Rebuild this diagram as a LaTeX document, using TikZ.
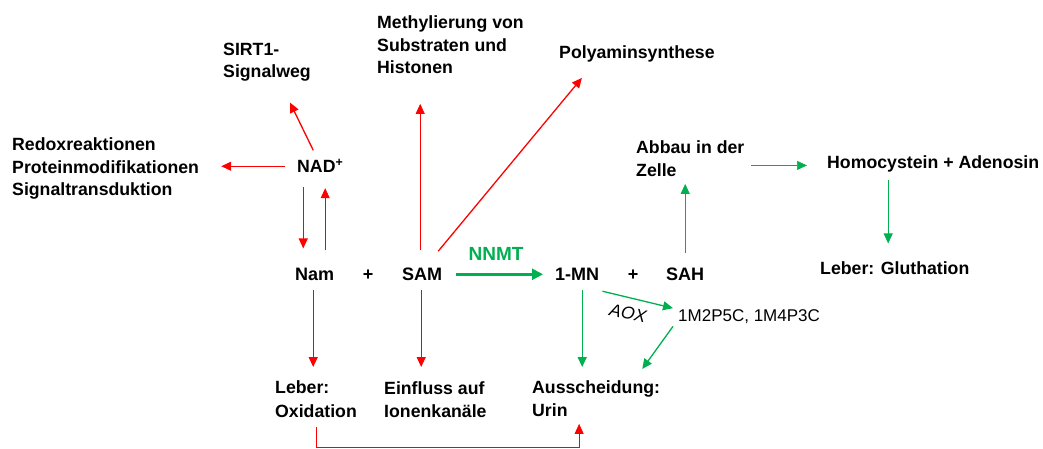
\documentclass[tikz,border=0pt]{standalone}
\usepackage{fontspec}
\setmainfont{Liberation Sans}
\usetikzlibrary{arrows.meta,calc}
\definecolor{rd}{HTML}{FF0000}
\definecolor{gn}{HTML}{00B050}
\begin{document}
\begin{tikzpicture}[x=1pt,y=-1pt,
  lab/.style={anchor=north west, inner sep=0pt, align=left, font=\fontsize{17.7}{22.5}\selectfont\bfseries},
  lab1/.style={anchor=base west, inner sep=0pt, font=\fontsize{17.7}{22.5}\selectfont\bfseries},
  mol/.style={anchor=base west, inner sep=0pt, font=\fontsize{18}{22}\selectfont\bfseries},
  tip/.style={-{Triangle[length=10pt,width=9pt]}},
  ra/.style={draw=rd, line width=1.3pt, tip},
  rthin/.style={draw=rd, line width=0.7pt, tip},
  ga/.style={draw=gn, line width=1.3pt, tip},
  gthin/.style={draw=gn, line width=0.7pt, tip},
  gthick/.style={draw=gn, line width=2.4pt, -{Triangle[length=11pt,width=11pt]}}]
\path[use as bounding box] (0,0) rectangle (1043,449);
\coordinate (bot) at (0,447.5);

% labels
\node[lab] (sirt) at (223,42.5) {SIRT1-\\Signalweg};
\node[lab] (meth) at (377,15.5) {Methylierung von\\Substraten und\\Histonen};
\node[lab1] (poly) at (559,59) {Polyaminsynthese};
\node[lab] (redox) at (12,137.5) {Redoxreaktionen\\Proteinmodifikationen\\Signaltransduktion};
\node[lab1] (nad) at (297,173) {NAD\textsuperscript{+}};
\node[lab] (abbau) at (636,140.5) {Abbau in der\\Zelle};
\node[lab1] (homo) at (827,169) {Homocystein + Adenosin};
\node[lab1] (lglut) at (820,274) {Leber: Gluthation};

\node[mol] (nam) at (295,280) {Nam};
\node[mol, anchor=base] (plusa) at (368,280) {+};
\node[mol] (sam) at (402,280) {SAM};
\node[mol, anchor=base, text=gn, font=\fontsize{19}{22}\selectfont\bfseries] (nnmt) at (496,260) {NNMT};
\node[mol] (mn) at (555,280) {1-MN};
\node[mol, anchor=base] (plusb) at (633,280) {+};
\node[mol] (sah) at (666,280) {SAH};
\node[inner sep=0pt, rotate=-12, font=\fontsize{17.5}{20}\selectfont\itshape] (aox) at (628,313) {AOX};
\node[anchor=base west, inner sep=0pt, font=\fontsize{17}{20}\selectfont] (prod) at (678,321) {1M2P5C, 1M4P3C};

\node[lab, font=\fontsize{17.7}{24}\selectfont\bfseries] (lox) at (275,380.5) {Leber:\\Oxidation};
\node[lab, font=\fontsize{17.7}{23}\selectfont\bfseries] (einf) at (384,381.5) {Einfluss auf\\Ionenkanäle};
\node[lab, font=\fontsize{17.7}{23}\selectfont\bfseries] (aus) at (532,380.5) {Ausscheidung:\\Urin};

% red connectors
\draw[ra] ($(nad.west)+(-12,0)$) coordinate (a1) -- ($(a1 -| redox.east)+(22,0)$);
\draw[ra] ($(nad.north)+(-7,-9)$) -- ($(sirt.south)+(23,21)$);
\draw[ra, shorten >=19pt] ($(nad.south)+(-17,14)$) coordinate (a3) -- (a3 |- nam.north);
\draw[rthin, shorten >=15pt] ($(nam.north)+(10.5,-17)$) coordinate (a4) -- (a4 |- nad.south);
\draw[rthin, shorten >=30pt] ($(sam.north)+(-2,-17)$) coordinate (a5) -- (a5 |- meth.south);
\draw[ra] ($(sam.north)+(16,-16)$) -- ($(poly.south)+(-55,15)$);
\draw[ra, shorten >=13.5pt] ($(nam.south)+(-1.5,10)$) coordinate (a11) -- (a11 |- lox.north);
\draw[ra, shorten >=14.5pt] ($(sam.south)+(-1,10)$) coordinate (a12) -- (a12 |- einf.north);
\draw[rthin] ($(lox.south)+(0,9)$) coordinate (b1) -- (b1 |- bot) -| ($(aus.south)+(-17,7)$);

% green connectors
\draw[gthick, shorten >=12pt] ($(sam.east)+(14,0.5)$) coordinate (a7) -- (a7 -| mn.west);
\draw[gthin, shorten >=7.5pt] ($(sah.north)+(0,-14)$) coordinate (a8) -- (a8 |- abbau.south);
\draw[gthin, shorten >=20pt] ($(homo.west)+(-76,1)$) coordinate (a9) -- (a9 -| homo.west);
\draw[gthin, shorten >=17.5pt] ($(homo.south)+(-45,7)$) coordinate (a10) -- (a10 |- lglut.north);
\draw[ga, shorten >=13.5pt] ($(mn.south)+(5,10)$) coordinate (a13) -- (a13 |- aus.north);
\draw[ga] ($(mn.south east)+(3,11)$) -- ($(prod.west)+(-5,-8)$);
\draw[ga] ($(prod.south west)+(-5,3)$) -- ($(aus.north east)+(-18,-11.5)$);
\end{tikzpicture}
\end{document}
